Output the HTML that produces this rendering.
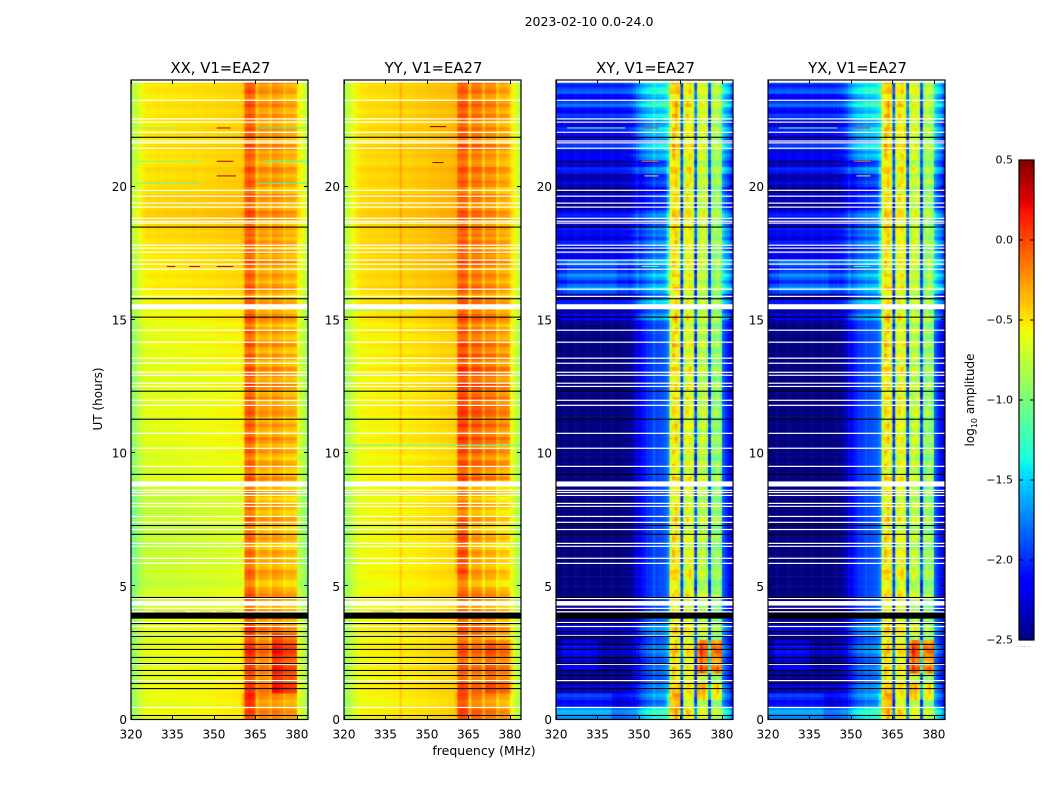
<!DOCTYPE html>
<html>
<head>
<meta charset="utf-8">
<title>2023-02-10 0.0-24.0</title>
<style>
  html, body { margin: 0; padding: 0; background: #fff; }
  #page { position: relative; width: 1050px; height: 800px; overflow: hidden; background: #fff; }
  canvas { position: absolute; display: block; }
  svg { position: absolute; left: 0; top: 0; }
  text { font-family: "DejaVu Sans", "Liberation Sans", sans-serif; fill: #000; }
</style>
</head>
<body>
<div id="page">
  <canvas id="hm0" width="177" height="640" style="left:131px;top:80px"></canvas>
  <canvas id="hm1" width="177" height="640" style="left:344px;top:80px"></canvas>
  <canvas id="hm2" width="177" height="640" style="left:556px;top:80px"></canvas>
  <canvas id="hm3" width="177" height="640" style="left:768px;top:80px"></canvas>
  <canvas id="cbar" width="15" height="480" style="left:1019px;top:160px"></canvas>
  <svg id="overlay" width="1050" height="800" xmlns="http://www.w3.org/2000/svg">
    <text x="589" y="26" font-size="12.5" text-anchor="middle">2023-02-10 0.0-24.0</text>
    <text x="484" y="755" font-size="12.5" text-anchor="middle">frequency (MHz)</text>
    <text x="0" y="0" font-size="12" text-anchor="middle" transform="translate(102,399) rotate(-90)">UT (hours)</text>
    <text x="0" y="0" font-size="12" text-anchor="middle" transform="translate(974,400) rotate(-90)">log<tspan font-size="8" dy="3">10</tspan><tspan dy="-3"> amplitude</tspan></text>
    <text x="1017" y="647" font-size="6" fill="#777" style="fill:#777;letter-spacing:0.4px">......</text>
  </svg>
</div>
<script>
// ---------- chart data ----------
var panelTitles = ["XX, V1=EA27", "YY, V1=EA27", "XY, V1=EA27", "YX, V1=EA27"];
var xTicks = [320, 335, 350, 365, 380];
var yTicks = [0, 5, 10, 15, 20];
var cbarTicks = [0.5, 0.0, -0.5, -1.0, -1.5, -2.0, -2.5];

// log10 amplitude per 1 MHz channel (320..383 MHz)
var xxProfile = [-.80,-.72,-.65,-.58,-.52,-.49,-.48,-.48,-.48,-.47,-.47,-.47,-.46,-.46,-.47,-.46,-.46,-.45,-.46,-.45,-.45,-.45,-.44,-.44,-.45,-.44,-.44,-.43,-.43,-.43,-.44,-.42,-.42,-.41,-.42,-.41,-.41,-.40,-.40,-.40,-.37,-.08,-.04,-.06,-.10,-.38,-.25,-.25,-.26,-.27,-.36,-.23,-.24,-.26,-.27,-.38,-.32,-.32,-.32,-.35,-.50,-.56,-.64,-.75];
var yyProfile = [-.82,-.74,-.66,-.60,-.54,-.50,-.48,-.47,-.47,-.46,-.46,-.46,-.45,-.45,-.45,-.45,-.44,-.44,-.44,-.44,-.32,-.43,-.43,-.42,-.42,-.41,-.41,-.40,-.40,-.40,-.39,-.38,-.38,-.37,-.37,-.36,-.36,-.35,-.35,-.34,-.32,-.05,-.03,-.05,-.08,-.36,-.12,-.12,-.13,-.14,-.34,-.18,-.18,-.20,-.20,-.38,-.28,-.28,-.28,-.32,-.48,-.56,-.66,-.78];
var xyProfile = [-2.5,-2.5,-2.5,-2.5,-2.5,-2.5,-2.5,-2.5,-2.5,-2.5,-2.5,-2.5,-2.5,-2.5,-2.5,-2.5,-2.5,-2.5,-2.5,-2.5,-2.5,-2.5,-2.5,-2.5,-2.5,-2.48,-2.45,-2.42,-2.35,-2.25,-2.15,-2.08,-2.03,-2.0,-1.97,-1.85,-1.95,-1.92,-1.90,-1.86,-1.75,-.68,-.50,-.50,-.64,-1.95,-.74,-.60,-.62,-.72,-1.95,-.86,-.74,-.76,-.84,-2.0,-1.0,-.90,-.90,-1.0,-1.85,-2.0,-2.1,-2.3];
var yxProfile = [-2.5,-2.5,-2.5,-2.5,-2.5,-2.5,-2.5,-2.5,-2.5,-2.5,-2.5,-2.5,-2.5,-2.5,-2.5,-2.5,-2.5,-2.5,-2.5,-2.5,-2.5,-2.5,-2.5,-2.5,-2.5,-2.47,-2.44,-2.40,-2.33,-2.22,-2.12,-2.05,-2.0,-1.98,-1.95,-1.88,-1.93,-1.90,-1.88,-1.84,-1.75,-.70,-.49,-.50,-.64,-1.95,-.72,-.59,-.60,-.70,-1.95,-.85,-.73,-.74,-.83,-2.0,-.98,-.88,-.90,-.99,-1.85,-2.0,-2.1,-2.3];

// per half-hour offsets (0h .. 24h), outside the band / inside the band
var xxLowOffset = [-.14,-.12,-.14,-.14,-.15,-.15,-.15,-.15,-.20,-.22,-.25,-.25,-.26,-.26,-.26,-.26,-.24,-.22,-.18,-.17,-.16,-.15,-.15,-.15,-.16,-.16,-.15,-.14,-.14,-.13,-.12,-.08,-.06,-.05,-.05,-.04,.0,.03,.03,.02,-.02,-.02,-.03,-.03,-.03,-.04,-.04,-.04];
var xxBandOffset = [.0,.04,.05,.06,.05,.05,.02,.0,-.02,-.04,-.08,-.08,-.07,-.07,-.06,-.07,-.07,-.06,-.03,-.04,-.03,-.03,-.02,-.01,.0,.01,-.02,-.03,-.03,-.03,-.03,-.04,-.03,-.03,-.04,-.04,-.04,-.02,.0,.0,-.02,-.02,-.02,-.02,-.01,-.02,-.01,.0];
var yyLowOffset = [-.10,-.10,-.10,-.10,-.10,-.10,-.10,-.10,-.11,-.11,-.12,-.12,-.12,-.12,-.12,-.11,-.11,-.11,-.11,-.10,-.10,-.10,-.10,-.09,-.09,-.09,-.09,-.08,-.08,-.07,-.05,-.03,-.01,.0,.0,.0,.01,.02,.02,.01,.0,.0,.0,-.01,-.01,-.02,-.02,-.02];
var yyBandOffset = [-.02,-.03,-.02,-.03,-.02,-.03,-.05,-.05,-.08,-.10,-.10,-.10,-.08,-.08,-.10,-.12,-.10,-.10,.0,.02,.03,.05,.08,.08,.08,.06,.05,.04,.0,-.02,-.02,-.03,-.03,-.03,-.03,-.04,-.05,-.05,-.04,-.05,-.04,-.04,-.05,-.04,-.04,-.03,-.03,-.03];
var xyLowOffset = [.45,.25,.10,.08,.08,.10,.12,.12,.05,.0,.0,.0,.0,.0,.0,.0,.0,.0,.0,.0,.0,.0,.0,.0,.0,.0,.0,.0,.0,.02,.15,.30,.45,.50,.38,.30,.30,.30,.14,.10,.12,.25,.30,.30,.35,.40,.48,.50];
var xyBandOffset = [.05,.02,.03,.05,.05,.05,.02,.0,-.02,-.03,.0,.0,.0,.0,.01,.0,.0,.0,.01,.0,.0,.01,.0,.0,.01,.0,.0,.0,.01,.0,.0,.0,.0,.01,.01,.02,.03,.05,.03,.03,.02,.03,.06,.05,.06,.08,.08,.10];
var yxLowOffset = [.42,.24,.10,.09,.08,.11,.12,.11,.04,.0,.0,.0,.0,.0,.0,.0,.0,.0,.0,.0,.0,.0,.0,.0,.0,.0,.0,.0,.0,.02,.14,.28,.45,.48,.36,.30,.30,.30,.14,.10,.12,.24,.30,.30,.33,.40,.46,.50];
var yxBandOffset = [.05,.03,.02,.05,.04,.05,.02,.0,-.02,-.03,.0,.0,.01,.0,.0,.0,.0,.01,.0,.0,.01,.0,.0,.01,.0,.0,.0,.01,.0,.0,.0,.0,.01,.01,.01,.02,.03,.04,.03,.03,.02,.03,.05,.05,.07,.08,.08,.10];

// row-to-row gain stripes, one value per 7.5 minutes
var rowStripes = [1,2,3,1,-1,-2,0,1,2,3,2,0,-1,-1,1,2,0,-2,-1,1,3,2,1,-1,-2,0,2,3,1,-1,0,2,1,-1,-2,-1,2,3,1,0,-2,-2,1,2,3,0,-1,1,
  -1,1,2,-2,-3,0,2,1,-1,-3,-1,2,3,-1,-2,1,2,-1,-3,0,2,-1,-2,1,3,0,-2,-1,2,1,-3,-1,2,0,-2,1,3,-1,-2,0,2,-1,-3,1,2,0,1,-2,
  2,-1,-2,1,3,-1,-2,0,2,3,-1,-3,1,2,-2,-1,3,1,-2,-1,2,0,-3,1,3,2,-1,-2,1,2,-1,-3,0,3,1,-2,0,2,-1,-2,1,3,0,-1,2,-2,1,2,
  -1,1,0,2,-1,-2,1,2,3,-1,-2,0,1,2,-2,-3,1,2,0,-1,2,3,-1,-2,0,1,-1,2,3,-2,-1,1,0,2,-1,-2,1,2,-1,0,3,1,-2,-1,2,1,-1,2];

// cell mottling inside the band of the cross-hands
var bandMottle = [2,-1,-3,1,0,3,-2,-1,2,-3,1,-2,3,0,-1,-3,2,1,-2,0,3,-1,-2,1,-3,2,0,-1,3,-2,1,-3,0,2,-1,3,-2,-3,1,2,-1,0,-2,3,1,-3,2,-1,0,-2,1,3,-3,-1,2,0,1,-2,3,-1,-3];

// hot spots: start hour, end hour, start MHz, end MHz, delta log amplitude
var xxHotspots = [[1,3.2,371,376,.30],[1,3.2,376,380,.24],[.5,1,360,365,.15],[2,3.4,360,370,.05]];
var yyHotspots = [[1,3,371,381,.14],[5.5,7.5,360,365,.1],[.3,1,360,365,.08],[5,9,365,380,-.08]];
var xyHotspots = [[1.7,3,371,376,.6],[1.7,3,376,380,.66],[.3,1,360,365,.22],[.7,1.3,371,380,.3],[16,17.2,324,342,.1],[16,17.2,321,346,.08],[0,.9,320,340,.15],[0,.9,320,348,.1],[1.8,3,322,335,.18],[16,21,350,360,-.2]];
var yxHotspots = [[1.7,3,371,376,.62],[1.7,3,376,380,.64],[.3,1,360,365,.2],[.7,1.3,371,380,.28],[16,17.2,324,342,.1],[16,17.2,321,346,.08],[0,.9,320,340,.15],[0,.9,320,348,.1],[1.8,3,322,335,.18],[16,21,350,360,-.2]];

// interference segments: hour, start MHz, end MHz, log amplitude
var xxInterference = [[22.2,320,336,-1.0],[22.2,340,344,-.9],[22.2,351,356,.35],[22.2,366,384,-1.2],[20.95,322,345,-1.0],[20.95,351,357,.35],[20.95,368,384,-1.2],[20.4,351,358,.4],[20.13,322,345,-1.1],[20.13,366,384,-1.2],[17,333,336,.3],[17,341,345,.3],[17,351,357,.35],[4.05,328,340,.42],[4.05,345,349,.42],[4.05,351,357,.42]];
var yyInterference = [[22.25,351,357,.5],[20.9,352,356,.45],[15.36,320,345,-1.0],[10.29,320,384,-1.1],[4.05,330,338,.45]];
var xyInterference = [[22.2,324,345,-.9],[22.2,351,357,.1],[20.95,351,357,-.1],[20.4,352,357,-.7],[17,351,357,-1.2],[4.05,320,360,.1]];
var yxInterference = [[22.2,324,345,-.9],[22.2,351,357,.1],[20.95,351,357,-.1],[20.4,352,357,-.7],[17,351,357,-1.2],[4.05,320,360,.1]];

// flagged (blank) hours, thin white rows
var whiteHours = [23.24,22.54,22.42,22.04,21.71,21.64,21.44,19.86,19.64,19.38,19.23,18.81,18.70,18.63,17.80,17.69,17.54,17.24,17.09,16.90,16.15,15.88,14.61,14.16,13.56,13.37,13.03,12.92,12.62,12.50,11.98,11.79,10.74,10.18,9.50,8.60,8.52,8.41,8.11,8.00,7.62,7.40,7.13,6.61,6.50,6.05,5.86,4.54,4.17,4.04,3.64,3.49,3.15,2.07,1.46,.45];
// thick white rows: centre hour, duration in hours
var whiteBands = [[15.49,.19],[8.84,.19],[4.36,.17]];
// black rows: centre hour, duration in hours
var blackRows = [[21.85,.04],[18.48,.04],[15.79,.04],[15.10,.04],[12.32,.04],[11.27,.04],[9.20,.04],[7.28,.04],[6.95,.04],[4.58,.04],[3.90,.23],[3.60,.04],[3.30,.04],[3.12,.04],[2.82,.04],[2.63,.04],[2.33,.04],[2.10,.04],[1.84,.04],[1.65,.04],[1.35,.04],[1.16,.04],[.15,.04]];

var panelProfiles = [xxProfile, yyProfile, xyProfile, yxProfile];
var panelLowOffsets = [xxLowOffset, yyLowOffset, xyLowOffset, yxLowOffset];
var panelBandOffsets = [xxBandOffset, yyBandOffset, xyBandOffset, yxBandOffset];
var panelHotspots = [xxHotspots, yyHotspots, xyHotspots, yxHotspots];
var panelInterference = [xxInterference, yyInterference, xyInterference, yxInterference];

// ---------- geometry + scales ----------
var panelLeft = [131, 344, 556, 768];
var panelW = 177, axTop = 80, axBottom = 719.5, axH = axBottom - axTop;
var fMin = 320, fMax = 384, tMin = 0, tMax = 24;
var stripeLow = [.012, .012, .08, .08];
var stripeBand = [.04, .04, .05, .05];
var mottleBand = [0, 0, .04, .04];
function xScale(f) { return (f - fMin) / (fMax - fMin) * panelW; }
function yScale(t) { return axBottom - axTop - (t - tMin) / (tMax - tMin) * axH; }
function cbarY(v) { return 160 + (0.5 - v) / 3 * 480; }

function interp(pts, f) {
  for (var k = 1; k < pts.length; k++) {
    if (f <= pts[k][0]) {
      var a = pts[k - 1], b = pts[k];
      return a[1] + (b[1] - a[1]) * (f - a[0]) / (b[0] - a[0]);
    }
  }
  return pts[pts.length - 1][1];
}
var jetR = [[0,0],[.35,0],[.66,1],[.89,1],[1,.5]];
var jetG = [[0,0],[.125,0],[.375,1],[.64,1],[.91,0],[1,0]];
var jetB = [[0,.5],[.11,1],[.34,1],[.65,0],[1,0]];
function colorOf(v) {
  var f = Math.max(0, Math.min(1, (v + 2.5) / 3));
  return "rgb(" + Math.round(interp(jetR, f) * 255) + "," + Math.round(interp(jetG, f) * 255) + "," + Math.round(interp(jetB, f) * 255) + ")";
}

var NS = "http://www.w3.org/2000/svg";
var svg = document.getElementById("overlay");
function svgEl(tag, attrs, parent) {
  var e = document.createElementNS(NS, tag);
  for (var k in attrs) e.setAttribute(k, attrs[k]);
  (parent || svg).appendChild(e);
  return e;
}

// ---------- heatmaps ----------
panelTitles.forEach(function (title, p) {
  var ctx = document.getElementById("hm" + p).getContext("2d");
  var prof = panelProfiles[p], lowOff = panelLowOffsets[p], bandOff = panelBandOffsets[p], hot = panelHotspots[p];
  var dt = 0.125;
  for (var r = 0; r < rowStripes.length; r++) {
    var t = r * dt, bin = Math.floor(t / 0.5);
    var y0 = yScale(t + dt), y1 = yScale(t);
    for (var i = 0; i < prof.length; i++) {
      var f = fMin + i, inBand = i >= 41 && i <= 59;
      var v = prof[i];
      v += inBand ? bandOff[bin] : lowOff[bin];
      if (inBand) {
        v += rowStripes[r] * stripeBand[p];
        v += bandMottle[(r * 23 + i * 37) % bandMottle.length] * mottleBand[p];
      } else {
        var stripeScale = p >= 2 ? Math.min(1, Math.max(0, lowOff[bin] / 0.2)) : 1;
        v += rowStripes[r] * stripeLow[p] * stripeScale;
      }
      for (var h = 0; h < hot.length; h++) {
        if (t >= hot[h][0] && t < hot[h][1] && f >= hot[h][2] && f < hot[h][3]) v += hot[h][4];
      }
      ctx.fillStyle = colorOf(v);
      ctx.fillRect(xScale(f), y0, xScale(f + 1) - xScale(f) + 0.5, y1 - y0 + 0.5);
    }
  }
  // axes overlay group
  var g = svgEl("g", { transform: "translate(" + panelLeft[p] + "," + axTop + ")" });
  
  

  panelInterference[p].forEach(function (d) {
    var seg = svgEl("rect", { x: xScale(d[1]), y: yScale(d[0]) - 0.5, width: xScale(d[2]) - xScale(d[1]), height: 1, fill: colorOf(d[3]) }, g);
    
    
  });
  whiteHours.forEach(function (th) {
    var w = svgEl("rect", { x: 0, y: yScale(th) - 0.6, width: panelW, height: 1.2, fill: "#fff" }, g);
    
    
  });
  whiteBands.forEach(function (d) {
    var wb = svgEl("rect", { x: 0, y: yScale(d[0] + d[1] / 2), width: panelW, height: yScale(d[0] - d[1] / 2) - yScale(d[0] + d[1] / 2), fill: "#fff" }, g);
    
    
  });
  blackRows.forEach(function (d) {
    var b = svgEl("rect", { x: 0, y: yScale(d[0] + d[1] / 2), width: panelW, height: yScale(d[0] - d[1] / 2) - yScale(d[0] + d[1] / 2), fill: "#000" }, g);
    
    
  });

  var white = svgEl("rect", { x: 0, y: 0, width: panelW, height: yScale(23.9), fill: "#fff" }, g);
  
  

  xTicks.forEach(function (tick) {
    var x = Math.round(xScale(tick)) + 0.5;
    var a = svgEl("line", { x1: x, x2: x, y1: axH, y2: axH - 4, stroke: "#000" }, g);
    
    
    var b = svgEl("line", { x1: x, x2: x, y1: 0, y2: 4, stroke: "#000" }, g);
    
    
    var lab = svgEl("text", { x: xScale(tick), y: axH + 19, "font-size": 12, "text-anchor": "middle" }, g);
    lab.textContent = tick;
    
    
  });
  yTicks.forEach(function (tick) {
    var y = Math.round(yScale(tick)) - 0.5;
    var a = svgEl("line", { x1: 0, x2: 4, y1: y, y2: y, stroke: "#000" }, g);
    
    
    var b = svgEl("line", { x1: panelW, x2: panelW - 4, y1: y, y2: y, stroke: "#000" }, g);
    
    
    var lab = svgEl("text", { x: -4, y: yScale(tick) + 4.5, "font-size": 12, "text-anchor": "end" }, g);
    lab.textContent = tick;
    
    
  });

  var frame = svgEl("rect", { x: 0, y: 0, width: panelW, height: axH, fill: "none", stroke: "#000", "stroke-width": 1.2 }, g);
  
  

  var ttl = svgEl("text", { x: panelW / 2 + 1, y: -7, "font-size": 14.8, "text-anchor": "middle" }, g);
  ttl.textContent = title;
  
  
});

// ---------- colorbar ----------
(function () {
  var ctx = document.getElementById("cbar").getContext("2d");
  for (var py = 0; py < 480; py++) {
    ctx.fillStyle = colorOf(0.5 - (py + 0.5) / 480 * 3);
    ctx.fillRect(0, py, 15, 1);
  }
  var frame = svgEl("rect", { x: 1019, y: 160, width: 15, height: 480, fill: "none", stroke: "#000", "stroke-width": 1.2 });
  
  
  cbarTicks.forEach(function (v) {
    var y = cbarY(v);
    var a = svgEl("line", { x1: 1019, x2: 1023, y1: y, y2: y, stroke: "#000" });
    
    
    var b = svgEl("line", { x1: 1034, x2: 1030, y1: y, y2: y, stroke: "#000" });
    
    
    var lab = svgEl("text", { x: 1013, y: y + 3.5, "font-size": 11, "text-anchor": "end" });
    lab.textContent = v.toFixed(1).replace("-", "\u2212");
    
    
  });
})();
</script>
</body>
</html>
